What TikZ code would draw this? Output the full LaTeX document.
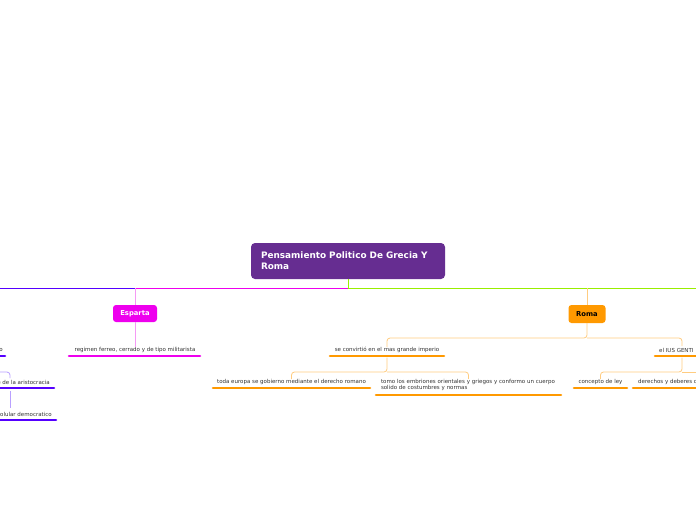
\documentclass[tikz,border=0pt]{standalone}
\usepackage{fontspec}
\setmainfont{DejaVu Sans}
\definecolor{rootc}{HTML}{662D91}
\definecolor{espc}{HTML}{EE00EE}
\definecolor{romac}{HTML}{FF9900}
\definecolor{greenc}{HTML}{99EE00}
\definecolor{bluec}{HTML}{5500FF}
\definecolor{lmag}{HTML}{F59AF5}
\definecolor{lora}{HTML}{FFCC80}
\definecolor{lpur}{HTML}{B9A0FF}
\definecolor{txt}{HTML}{333333}
\begin{document}
\begin{tikzpicture}[x=1pt,y=-1pt,
  lbl/.style={font=\fontsize{5.5}{6.5}\selectfont, text=txt, inner sep=0pt},
  ul/.style={line width=2.6pt, line cap=round},
  conn/.style={line width=0.8pt, rounded corners=3pt},
  mainline/.style={line width=1pt},
  topic/.style={rounded corners=3pt, inner sep=0pt, font=\fontsize{6.8}{7}\selectfont\bfseries}
  ]
\useasboundingbox (0,0) rectangle (696,520);
\fill[white] (0,0) rectangle (696,520);
\clip (0,0) rectangle (696,520);

% root
\node[rounded corners=4pt, fill=rootc, minimum width=194pt, minimum height=36pt,
      text width=174pt, align=left, inner xsep=10pt, text=white,
      font=\fontsize{8.9}{11}\selectfont\bfseries] (root) at (348,261)
      {Pensamiento Politico De Grecia Y\\Roma};

% main branches
\coordinate (jroot) at (348,288);
\coordinate (jesp) at (135,288);
\coordinate (jroma) at (587,288);
\coordinate (jleft) at (-5,288);
\coordinate (jright) at (700,288);
\draw[mainline, bluec] (jleft) -- (jesp);
\draw[mainline, espc] (jesp) -- (jroot);
\draw[mainline, greenc] (root.south) -- (jroot) -- (jright);

% Esparta
\node[topic, fill=espc, text=white, minimum width=44pt, minimum height=17pt] (esp) at (135,313.5) {Esparta};
\draw[conn, lmag] (jesp) -- (esp.north);
\node[lbl] (reg) at (135,350) {regimen ferreo, cerrado y de tipo militarista};
\draw[conn, lmag] (esp.south) -- (reg.north);
\draw[ul, espc] (69,356) -- (200,356);

% Roma
\node[topic, fill=romac, text=black, minimum width=37pt, minimum height=18pt] (roma) at (587,314) {Roma};
\draw[conn, lora] (jroma) -- (roma.north);
\coordinate (jr1) at (587,338);
\node[lbl] (conv) at (387,350) {se convirtió en el mas grande imperio};
\node[lbl, anchor=west] (ius) at (659,350) {el IUS GENTI};
\coordinate (iustop) at (682,346);
\draw[conn, lora] (roma.south) -- (jr1) -| (conv.north);
\draw[conn, lora] (jr1) -| (iustop);
\draw[ul, romac] (330,356) -- (444,356);
\draw[ul, romac] (655,356) -- (705,356);

% children of "se convirtio"
\coordinate (cbot) at (387,357.5);
\coordinate (jc) at (387,372);
\node[lbl] (toda) at (291.5,382) {toda europa se gobierno mediante el derecho romano};
\node[lbl, text width=175pt, align=left] (tomo) at (468.5,385)
  {tomo los embriones orientales y griegos y conformo un cuerpo\\solido de costumbres y normas};
\draw[conn, lora] (cbot) -- (jc) -| (toda.north);
\draw[conn, lora] (jc) -| (tomo.north);
\draw[ul, romac] (213,388) -- (370,388);
\draw[ul, romac] (376,395) -- (561,395);

% children of IUS GENTI
\coordinate (ibot) at (682,357.5);
\coordinate (ji) at (682,372);
\coordinate (jiright) at (705,372);
\node[lbl] (conc) at (600.5,382) {concepto de ley};
\node[lbl, anchor=west] (der) at (638,382) {derechos y deberes d};
\draw[conn, lora] (ibot) -- (ji) -| (conc.north);
\draw[conn, lora] (ji) -- (jiright);
\draw[ul, romac] (574,388) -- (627,388);
\draw[ul, romac] (633,388) -- (705,388);

% left side (clipped branch)
\node[lbl, anchor=east] (o) at (3,350) {o};
\draw[ul, bluec] (-10,356) -- (5,356);
\node[lbl, anchor=east] (aris) at (50,382) {e de la aristocracia};
\draw[ul, bluec] (-10,388) -- (54,388);
\coordinate (jl) at (-5,372);
\draw[conn, lpur] (jl) -| (10,378);
\coordinate (arbot) at (10,391);
\coordinate (demtop) at (10,408);
\draw[conn, lpur] (arbot) -- (demtop);
\node[lbl, anchor=east] (demo) at (52,414) {olular democratico};
\draw[ul, bluec] (-10,420) -- (56,420);
\end{tikzpicture}
\end{document}
